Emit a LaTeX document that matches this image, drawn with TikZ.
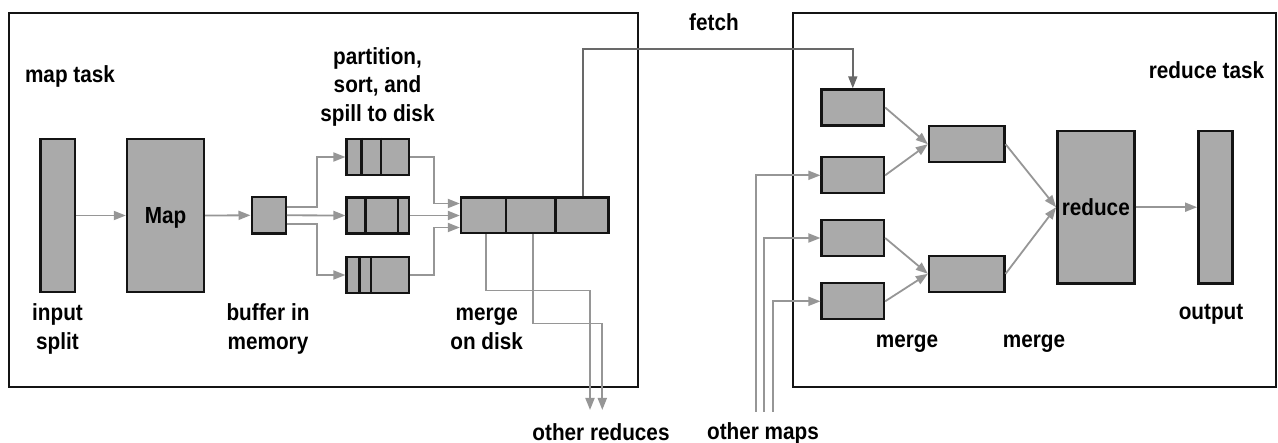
\documentclass[tikz,border=0pt]{standalone}
\usepackage{fontspec}
\setmainfont{Liberation Sans}[FakeStretch=0.89]
\usetikzlibrary{arrows.meta}
\definecolor{boxfill}{RGB}{170,170,170}
\definecolor{arrgray}{RGB}{150,150,150}
\definecolor{fetchgray}{RGB}{105,105,105}
\definecolor{edge}{RGB}{20,20,20}
\begin{document}
\begin{tikzpicture}[x=1pt,y=-1pt,
  every node/.style={font=\bfseries\fontsize{23.3}{28.7}\selectfont, inner sep=0pt},
  box/.style={draw=edge, fill=boxfill, line width=2.4pt, inner sep=0pt, text depth=0pt},
  lbl/.style={anchor=base, align=center},
  frame/.style={draw=edge, line width=2pt},
  arr/.style={draw=arrgray, line width=1.8pt, -{Triangle[length=12pt,width=9pt]}},
  fetcharr/.style={draw=fetchgray, line width=1.8pt, -{Triangle[length=12pt,width=9pt]}},
  div/.style={draw=edge, line width=2.4pt}]
\useasboundingbox (0,0) rectangle (1278,443);
% frames
\draw[frame] (9,13) rectangle (638,387);
\draw[frame] (792.7,13) rectangle (1276,387);
% map side boxes
\node[box, minimum width=34.3pt, minimum height=153pt] (inp) at (57.8,215.5) {};
\node[box, minimum width=77pt, minimum height=153pt] (map) at (165.5,215.5) {Map};
\node[box, minimum width=34pt, minimum height=36.7pt] (buf) at (268.7,215.3) {};
\node[box, minimum width=62.3pt, minimum height=36pt] (s1) at (377.8,157) {};
\node[box, minimum width=62.3pt, minimum height=36pt] (s2) at (377.8,215.5) {};
\node[box, minimum width=62.3pt, minimum height=36pt] (s3) at (377.8,275) {};
\node[box, minimum width=147.3pt, minimum height=35.6pt] (mg) at (534.7,215.5) {};
\foreach \n/\d in {s1/16, s1/35.3, s2/20, s2/52.3, s3/14, s3/25.6, mg/46.3, mg/95.7}
  \draw[div] ([xshift=\d pt]\n.north west) -- ([xshift=\d pt]\n.south west);
% reduce side boxes
\node[box, minimum width=62.3pt, minimum height=36pt] (r1) at (852.8,107.5) {};
\node[box, minimum width=62.3pt, minimum height=36pt] (r2) at (852.8,175.3) {};
\node[box, minimum width=62.3pt, minimum height=36pt] (r3) at (852.8,238) {};
\node[box, minimum width=62.3pt, minimum height=36pt] (r4) at (852.8,301.3) {};
\node[box, minimum width=75.3pt, minimum height=36pt] (m1) at (966.7,144.2) {};
\node[box, minimum width=75.3pt, minimum height=36pt] (m2) at (966.7,273.8) {};
\node[box, minimum width=77pt, minimum height=152.3pt] (red) at (1095.8,207.2) {reduce};
\node[box, minimum width=34pt, minimum height=152.3pt] (out) at (1215.3,207.2) {};
% labels (multi-line: base = last line's baseline)
\node[lbl] (lmap) at (70,82.7) {map task};
\node[lbl] (lpart) at (377.5,121.7) {partition,\\sort, and\\spill to disk};
\node[lbl] (linp) at (57.5,349.3) {input\\split};
\node[lbl] (lbuf) at (268,349.3) {buffer in\\memory};
\node[lbl] (lmd) at (486.7,349.3) {merge\\on disk};
\node[lbl] (lor) at (601,440.5) {other reduces};
\node[lbl] (lom) at (763,439.8) {other maps};
\node[lbl] (lfetch) at (714,30.7) {fetch};
\node[lbl] (lrt) at (1206.5,78.3) {reduce task};
\node[lbl] (lout) at (1211,320) {output};
\node[lbl] (lm1) at (907,347.3) {merge};
\node[lbl] (lm2) at (1034,347.3) {merge};
% coordinates
\coordinate (or1) at (590,410);
\coordinate (or2) at (602.3,410);
\coordinate (om1) at (755.7,411.7);
\coordinate (om2) at (764,411.7);
\coordinate (om3) at (773.3,411.7);
% map side connectors
\draw[arr] (inp.east) -- (map.west);
\draw[arr] (map.east) -- (buf.west);
\draw[arr] ([yshift=8pt]buf.east) -- ++(30,0) |- (s1.west);
\draw[arr] (buf.east) -- (s2.west);
\draw[arr] ([yshift=-9pt]buf.east) -- ++(30,0) |- (s3.west);
\draw[arr] (s1.east) -| ([xshift=-26pt,yshift=12pt]mg.west) -- ([yshift=12pt]mg.west);
\draw[arr] (s2.east) -- (mg.west);
\draw[arr] (s3.east) -| ([xshift=-26pt,yshift=-12pt]mg.west) -- ([yshift=-12pt]mg.west);
\draw[arr] ([xshift=26.3pt]mg.south west) -- ++(0,56) -| (or1);
\draw[arr] ([xshift=73pt]mg.south west) -- ++(0,89) -| (or2);
% fetch
\draw[fetcharr] ([xshift=123.3pt]mg.north west) -- ++(0,-147.7) -| (r1.north);
% other maps
\draw[arr] (om1) |- (r2.west);
\draw[arr] (om2) |- (r3.west);
\draw[arr] (om3) |- (r4.west);
% reduce side connectors
\draw[arr] (r1.east) -- (m1.west);
\draw[arr] (r2.east) -- (m1.west);
\draw[arr] (r3.east) -- (m2.west);
\draw[arr] (r4.east) -- (m2.west);
\draw[arr] (m1.east) -- (red.west);
\draw[arr] (m2.east) -- (red.west);
\draw[arr] (red.east) -- (out.west);
\end{tikzpicture}
\end{document}
